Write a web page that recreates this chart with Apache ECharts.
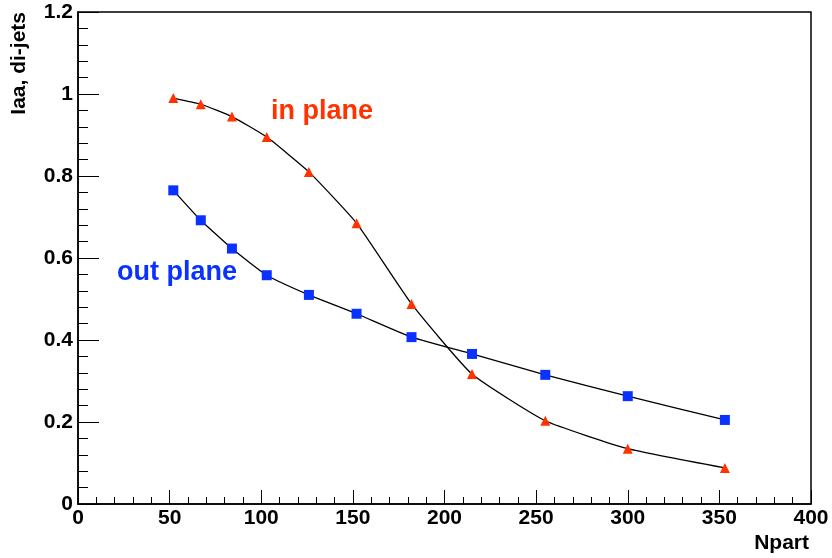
<!DOCTYPE html>
<html>
<head>
<meta charset="utf-8">
<script src="https://cdn.jsdelivr.net/npm/echarts@6/dist/echarts.min.js"></script>
<style>html,body{margin:0;padding:0;background:#fff}#c{width:832px;height:558px}</style>
</head>
<body>
<div id="c"></div>
<script>
var npart = [52, 67, 84, 103, 126, 152, 182, 215, 255, 300, 353];
var inPlane = [0.99, 0.975, 0.945, 0.895, 0.81, 0.685, 0.488, 0.317, 0.203, 0.135, 0.088];
var outPlane = [0.765, 0.692, 0.623, 0.558, 0.51, 0.464, 0.407, 0.366, 0.315, 0.263, 0.205];
var xTitle = 'Npart';
var yTitle = 'Iaa, di-jets';
var inLabel = 'in plane';
var outLabel = 'out plane';

var FONT = '"Liberation Sans", Arial, Helvetica, sans-serif';
function pairs(xs, ys){ return xs.map(function(x,i){ return [x, ys[i]]; }); }

var chart = echarts.init(document.getElementById('c'), null, {renderer:'canvas'});
chart.setOption({
  animation: false,
  backgroundColor: '#fff',
  grid: {left: 78, right: 21, top: 12, bottom: 54, show: true, borderColor: '#000', borderWidth: 1.5, containLabel: false},
  xAxis: {
    type: 'value', min: 0, max: 400, interval: 50,
    axisLine: {show: true, onZero: false, lineStyle: {color: '#000', width: 1.5}},
    axisTick: {show: true, inside: true, length: 14, lineStyle: {color: '#000', width: 1}},
    minorTick: {show: true, splitNumber: 5, length: 7, lineStyle: {color: '#000', width: 1}},
    splitLine: {show: false},
    minorSplitLine: {show: false},
    axisLabel: {color: '#000', fontFamily: FONT, fontWeight: 'bold', fontSize: 21, margin: 4, showMinLabel: true, showMaxLabel: true}
  },
  yAxis: {
    type: 'value', min: 0, max: 1.2, interval: 0.2,
    axisLine: {show: true, onZero: false, lineStyle: {color: '#000', width: 1.5}},
    axisTick: {show: true, inside: true, length: 21, lineStyle: {color: '#000', width: 1}},
    minorTick: {show: true, splitNumber: 5, length: 10, lineStyle: {color: '#000', width: 1}},
    splitLine: {show: false},
    minorSplitLine: {show: false},
    axisLabel: {color: '#000', fontFamily: FONT, fontWeight: 'bold', fontSize: 21, margin: 5,
      formatter: function(v){ return String(Math.round(v*10)/10); }}
  },
  series: [
    {
      name: outLabel, type: 'line', data: pairs(npart, outPlane), smooth: 0.15,
      symbol: 'rect', symbolSize: 10,
      lineStyle: {color: '#000', width: 1.3},
      itemStyle: {color: '#0a32ff'}
    },
    {
      name: inLabel, type: 'line', data: pairs(npart, inPlane), smooth: 0.15,
      symbol: 'triangle', symbolSize: [10, 10],
      lineStyle: {color: '#000', width: 1.3},
      itemStyle: {color: '#ff3300'}
    }
  ],
  graphic: [
    {type: 'text', x: 271, y: 112, style: {text: inLabel, fill: '#ff3300', font: 'bold 27px ' + FONT, verticalAlign: 'middle', align: 'left'}},
    {type: 'text', x: 117, y: 273, style: {text: outLabel, fill: '#0a32ff', font: 'bold 27px ' + FONT, verticalAlign: 'middle', align: 'left'}},
    {type: 'text', x: 809, y: 543, style: {text: xTitle, fill: '#000', font: 'bold 21px ' + FONT, verticalAlign: 'middle', align: 'right'}},
    {type: 'text', x: 19, y: 12, rotation: Math.PI/2, style: {text: yTitle, fill: '#000', font: 'bold 21px ' + FONT, verticalAlign: 'middle', align: 'right'}}
  ]
});
</script>
</body>
</html>
